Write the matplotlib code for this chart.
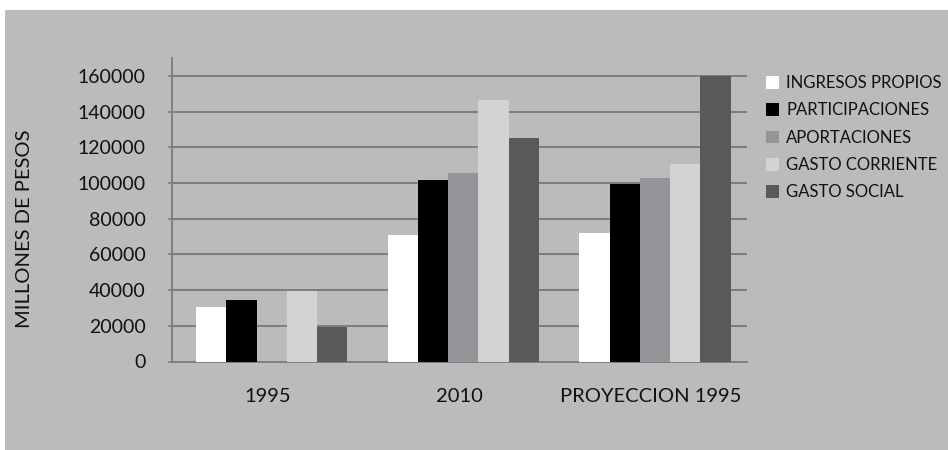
import numpy as np
import matplotlib
matplotlib.use("Agg")
import matplotlib.pyplot as plt
from matplotlib.patches import Rectangle

# data (millones de pesos)
categories = ["1995", "2010", "PROYECCION 1995"]
series = ["INGRESOS PROPIOS", "PARTICIPACIONES", "APORTACIONES",
          "GASTO CORRIENTE", "GASTO SOCIAL"]
ingresos_propios = [30500, 71000, 72000]
participaciones = [34500, 101500, 99500]
aportaciones = [0, 105500, 103000]
gasto_corriente = [39500, 146500, 110500]
gasto_social = [19500, 125000, 160000]
yticks = list(range(0, 160001, 20000))

colors = ["#ffffff", "#000000", "#939598", "#d1d3d4", "#58595b"]
values = [ingresos_propios, participaciones, aportaciones,
          gasto_corriente, gasto_social]

plt.rcParams["font.family"] = ["Lato", "DejaVu Sans"]
txt = "#111111"
bg = "#bbbbbb"

fig = plt.figure(figsize=(9.48, 4.5), dpi=100, facecolor="white")
# grey panel behind the chart
fig.patches.append(Rectangle((5 / 948, 0), 1, 1 - 10 / 450,
                             transform=fig.transFigure, facecolor=bg,
                             edgecolor="none", zorder=-10))

ax = fig.add_axes([172 / 948, 1 - 361.5 / 450, (747 - 172) / 948, (361.5 - 58) / 450])
ax.set_facecolor(bg)

x = np.arange(len(categories))
w = 0.158
for i, (name, vals) in enumerate(zip(series, values)):
    ax.bar(x + (i - 2) * w + 0.02, vals, width=w, color=colors[i], label=name,
           zorder=3, linewidth=0)

ax.set_xlim(-0.5, 2.5)
ax.set_ylim(0, 170000)
ax.set_yticks(yticks)
ax.set_yticklabels([str(v) for v in yticks])
ax.set_xticks(x)
ax.set_xticklabels(categories)

ax.grid(axis="y", color="#7d7d7d", linewidth=1.4, zorder=1)
for s in ["top", "right"]:
    ax.spines[s].set_visible(False)
for s in ["left", "bottom"]:
    ax.spines[s].set_color("#808080")
    ax.spines[s].set_linewidth(1.4)
ax.tick_params(axis="y", colors="#808080", length=3, width=1.2, pad=16,
               labelcolor=txt, labelsize=14)
ax.tick_params(axis="x", length=0, pad=19, labelcolor=txt, labelsize=14.5)

fig.text(25 / 948, 1 - 229 / 450, "MILLONES DE PESOS", rotation=90,
         ha="center", va="center", fontsize=14.5, color=txt)

leg = ax.legend(loc="upper left", bbox_to_anchor=(766 / 948, 1 - 75 / 450),
                bbox_transform=fig.transFigure, frameon=False, fontsize=12,
                handlelength=0.8, handleheight=0.8, handletextpad=0.4,
                labelspacing=0.68, borderaxespad=0, borderpad=0)
for t in leg.get_texts():
    t.set_color(txt)

fig.savefig("out.png", dpi=100, facecolor="white")
